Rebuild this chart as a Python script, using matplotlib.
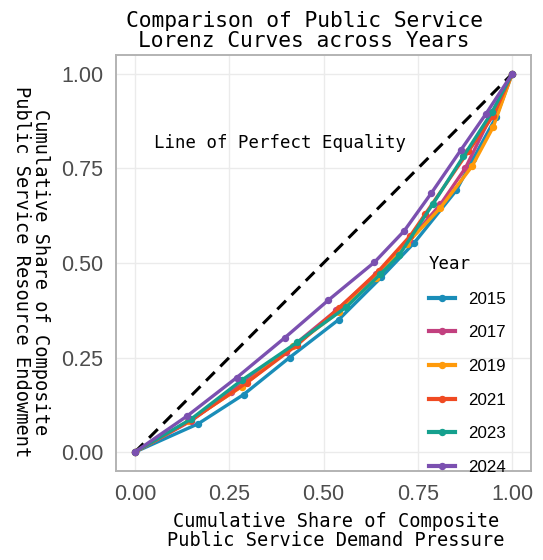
import matplotlib
matplotlib.use("Agg")
import matplotlib.pyplot as plt

# Lorenz curve points (cumulative shares)
years = ['2015', '2017', '2019', '2021', '2023', '2024']
colors = ['#1A8DB8', '#C2407F', '#FF9A0A', '#F04A22', '#15A08E', '#7B50B0']

x_2015 = [0, 0.168, 0.288, 0.41, 0.54, 0.653, 0.741, 0.852, 0.896, 0.958, 1]
y_2015 = [0, 0.075, 0.152, 0.25, 0.35, 0.462, 0.554, 0.692, 0.774, 0.887, 1]
x_2017 = [0, 0.15, 0.256, 0.40, 0.534, 0.64, 0.727, 0.81, 0.876, 0.95, 1]
y_2017 = [0, 0.083, 0.16, 0.265, 0.375, 0.47, 0.56, 0.655, 0.751, 0.90, 1]
x_2019 = [0, 0.142, 0.283, 0.42, 0.54, 0.64, 0.72, 0.81, 0.894, 0.95, 1]
y_2019 = [0, 0.081, 0.173, 0.28, 0.37, 0.46, 0.55, 0.646, 0.756, 0.86, 1]
x_2021 = [0, 0.15, 0.296, 0.43, 0.54, 0.647, 0.73, 0.77, 0.884, 0.95, 1]
y_2021 = [0, 0.085, 0.183, 0.283, 0.38, 0.48, 0.572, 0.63, 0.795, 0.89, 1]
x_2023 = [0, 0.15, 0.283, 0.43, 0.56, 0.65, 0.70, 0.79, 0.871, 0.947, 1]
y_2023 = [0, 0.088, 0.19, 0.29, 0.383, 0.47, 0.52, 0.656, 0.782, 0.90, 1]
x_2024 = [0, 0.138, 0.27, 0.397, 0.512, 0.635, 0.714, 0.786, 0.865, 0.931, 1]
y_2024 = [0, 0.095, 0.197, 0.302, 0.401, 0.502, 0.585, 0.685, 0.80, 0.895, 1]

xs = [x_2015, x_2017, x_2019, x_2021, x_2023, x_2024]
ys = [y_2015, y_2017, y_2019, y_2021, y_2023, y_2024]

ticks = [0, 0.25, 0.5, 0.75, 1]
tick_labels = ['0.00', '0.25', '0.50', '0.75', '1.00']

mono = 'DejaVu Sans Mono'
sans = ['Liberation Sans', 'DejaVu Sans']

fig = plt.figure(figsize=(5.43, 5.6), dpi=100)
ax = fig.add_axes([116 / 543, 1 - 471 / 560, 415 / 543, 416 / 560])

# equality line
ax.plot([0, 1], [0, 1], color='black', linestyle=(0, (4, 2.6)), linewidth=2.2, zorder=2)

for yr, c, x, y in zip(years, colors, xs, ys):
    ax.plot(x, y, color=c, linewidth=2.4, marker='o', markersize=4.3,
            label=yr, zorder=3)

ax.text(0.385, 0.816, 'Line of Perfect Equality', family=mono, fontsize=12.5,
        ha='center', va='center', color='black')

ax.set_xlim(-0.05, 1.05)
ax.set_ylim(-0.05, 1.05)
ax.set_xticks(ticks)
ax.set_yticks(ticks)
ax.set_xticklabels(tick_labels, family=sans, fontsize=15.5, color='#4D4D4D')
ax.set_yticklabels(tick_labels, family=sans, fontsize=15.5, color='#4D4D4D')
ax.tick_params(length=0, pad=9)
ax.grid(True, color='#EBEBEB', linewidth=1)
ax.set_axisbelow(True)
for s in ax.spines.values():
    s.set_color('#B3B3B3')
    s.set_linewidth(1.4)

leg = ax.legend(title='Year', loc='upper left', bbox_to_anchor=(429 / 543, 1 - 255 / 560),
                bbox_transform=fig.transFigure, frameon=False, borderpad=0,
                borderaxespad=0, handlelength=1.55, handletextpad=0.75,
                labelspacing=1.1, prop={'family': sans, 'size': 12.2},
                alignment='left')
leg.get_title().set_fontfamily(mono)
leg.get_title().set_fontsize(12.5)
for h in leg.legend_handles:
    h.set_linewidth(3)

# titles and axis labels
fig.text(304 / 543, 1 - 31 / 560, 'Comparison of Public Service\nLorenz Curves across Years',
         family=mono, fontsize=15.3, ha='center', va='center', linespacing=1.02)
fig.text(336 / 543, 1 - 531 / 560, 'Cumulative Share of Composite\nPublic Service Demand Pressure',
         family=mono, fontsize=13.4, ha='center', va='center', linespacing=1.02)
fig.text(31 / 543, 1 - 272 / 560, 'Cumulative Share of Composite\nPublic Service Resource Endowment',
         family=mono, fontsize=13.4, ha='center', va='center', rotation=270, linespacing=1.02)

fig.savefig('out.png', dpi=100)
